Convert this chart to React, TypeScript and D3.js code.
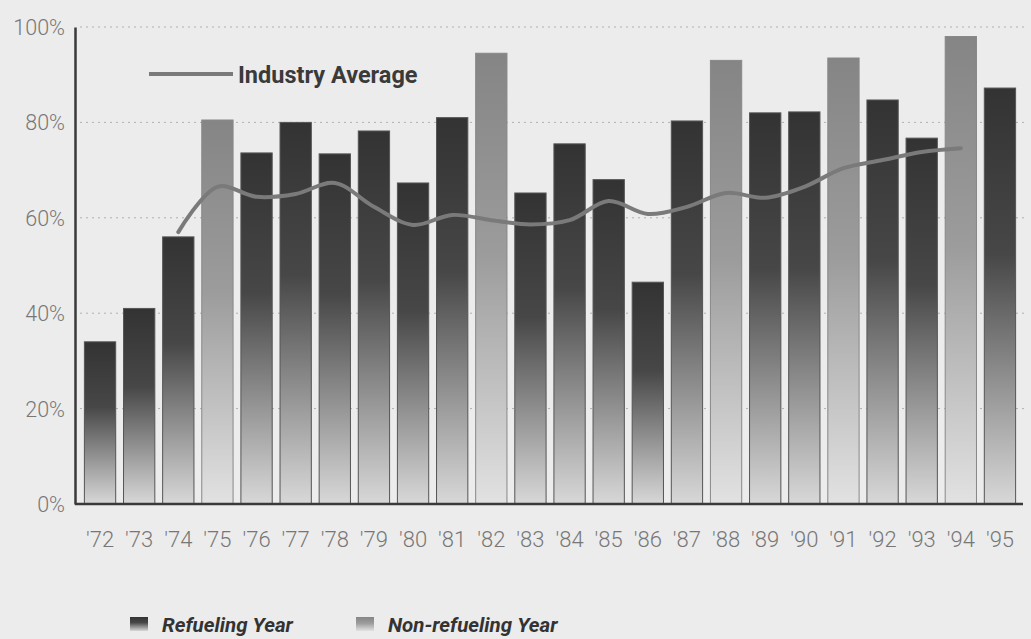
import React, { useEffect, useRef } from 'react';
import * as d3 from 'd3';

// capacity factor by year
const years = ["'72", "'73", "'74", "'75", "'76", "'77", "'78", "'79", "'80", "'81", "'82", "'83",
  "'84", "'85", "'86", "'87", "'88", "'89", "'90", "'91", "'92", "'93", "'94", "'95"];
const values = [34, 41, 56, 80.5, 73.6, 80, 73.4, 78.2, 67.3, 81, 94.5, 65.2,
  75.5, 68, 46.5, 80.3, 93, 82, 82.2, 93.5, 84.7, 76.7, 98, 87.2];
// non-refueling years are drawn lighter
const nonRefueling = ["'75", "'82", "'88", "'91", "'94"];
const avgYears = ["'74", "'75", "'76", "'77", "'78", "'79", "'80", "'81", "'82", "'83", "'84",
  "'85", "'86", "'87", "'88", "'89", "'90", "'91", "'92", "'93", "'94"];
const avgValues = [57, 66.5, 64.4, 65, 67.3, 62.3, 58.5, 60.6, 59.5, 58.6, 59.5,
  63.5, 60.8, 62.3, 65.2, 64.2, 66.5, 70.4, 72.1, 73.8, 74.6];
const yTicks = [0, 20, 40, 60, 80, 100];

const FONT = "'Roboto', 'Liberation Sans', sans-serif";

const App = () => {
  const svgRef = useRef<SVGSVGElement>(null);

  useEffect(() => {
    if (!svgRef.current) return;
    const width = 1031;
    const height = 639;

    const svg = d3.select(svgRef.current);
    svg.selectAll('*').remove();
    svg.attr('width', width).attr('height', height);

    svg.append('rect').attr('width', width).attr('height', height).attr('fill', '#ececec');

    // gradients
    const defs = svg.append('defs');
    const dark = defs.append('linearGradient').attr('id', 'gDark')
      .attr('x1', 0).attr('y1', 0).attr('x2', 0).attr('y2', 1);
    dark.append('stop').attr('offset', '0%').attr('stop-color', '#333');
    dark.append('stop').attr('offset', '40%').attr('stop-color', '#474747');
    dark.append('stop').attr('offset', '100%').attr('stop-color', '#d8d8d8');
    const light = defs.append('linearGradient').attr('id', 'gLight')
      .attr('x1', 0).attr('y1', 0).attr('x2', 0).attr('y2', 1);
    light.append('stop').attr('offset', '0%').attr('stop-color', '#858585');
    light.append('stop').attr('offset', '45%').attr('stop-color', '#9c9c9c');
    light.append('stop').attr('offset', '100%').attr('stop-color', '#e2e2e2');

    const x = d3.scaleBand<string>()
      .domain(years)
      .range([75, 1025])
      .paddingInner(0.2)
      .paddingOuter(0.24);

    const y = d3.scaleLinear().domain([0, 100]).range([504, 27]);

    // dotted gridlines
    svg.append('g')
      .selectAll('line')
      .data(yTicks.filter(d => d > 0))
      .join('line')
      .attr('x1', 80)
      .attr('x2', 1025)
      .attr('y1', d => y(d))
      .attr('y2', d => y(d))
      .attr('stroke', '#b0b0b0')
      .attr('stroke-width', 1)
      .attr('stroke-dasharray', '2,4');

    // bars
    svg.append('g')
      .selectAll('rect')
      .data(years)
      .join('rect')
      .attr('x', (d) => x(d) as number)
      .attr('y', (d, i) => y(values[i]))
      .attr('width', x.bandwidth())
      .attr('height', (d, i) => y(0) - y(values[i]))
      .attr('fill', d => nonRefueling.includes(d) ? 'url(#gLight)' : 'url(#gDark)')
      .attr('stroke', d => nonRefueling.includes(d) ? '#888' : '#555')
      .attr('stroke-width', 1);

    // industry average line
    const line = d3.line<number>()
      .x((d, i) => (x(avgYears[i]) as number) + x.bandwidth() / 2)
      .y(d => y(d))
      .curve(d3.curveCatmullRom.alpha(0.5));
    svg.append('path')
      .datum(avgValues)
      .attr('d', line)
      .attr('fill', 'none')
      .attr('stroke', '#7a7a7a')
      .attr('stroke-width', 4)
      .attr('stroke-linejoin', 'round')
      .attr('stroke-linecap', 'round');

    // axes
    const yAxis = svg.append('g')
      .attr('transform', 'translate(75,0)')
      .call(d3.axisLeft(y).tickValues(yTicks).tickSize(0).tickPadding(10).tickFormat(d => `${d}%`));
    yAxis.select('.domain').attr('stroke', '#3a3a3a').attr('stroke-width', 2.5);
    yAxis.selectAll('text')
      .attr('fill', '#777')
      .style('font-family', FONT)
      .style('font-weight', '300')
      .style('font-size', '21.5px')
      .attr('dy', '0.35em');

    const xAxis = svg.append('g')
      .attr('transform', 'translate(0,504)')
      .call(d3.axisBottom(x).tickSize(0).tickPadding(27));
    xAxis.select('.domain').attr('d', 'M75,0H1023').attr('stroke', '#3a3a3a').attr('stroke-width', 2.5);
    xAxis.selectAll('text')
      .attr('fill', '#777')
      .style('font-family', FONT)
      .style('font-weight', '300')
      .style('font-size', '22px');

    // industry average legend
    svg.append('line')
      .attr('x1', 149).attr('x2', 233).attr('y1', 74).attr('y2', 74)
      .attr('stroke', '#7a7a7a').attr('stroke-width', 4);
    svg.append('text')
      .attr('x', 238).attr('y', 83)
      .style('font-family', FONT)
      .style('font-size', '23.5px')
      .style('font-weight', 'bold')
      .attr('fill', '#3a3a3a')
      .text('Industry Average');

    // bottom legend
    const legend = [
      { label: 'Refueling Year', fill: 'url(#gDark)', x: 130 },
      { label: 'Non-refueling Year', fill: 'url(#gLight)', x: 356 },
    ];
    const lg = svg.append('g')
      .selectAll('g')
      .data(legend)
      .join('g')
      .attr('transform', d => `translate(${d.x},617)`);
    lg.append('rect')
      .attr('width', 18).attr('height', 14)
      .attr('fill', d => d.fill);
    lg.append('text')
      .attr('x', 32).attr('y', 15)
      .style('font-family', FONT)
      .style('font-size', '20.5px')
      .style('font-weight', 'bold')
      .style('font-style', 'italic')
      .attr('fill', '#333')
      .text(d => d.label);
  }, []);

  return <svg ref={svgRef} style={{ position: 'absolute', left: 0, top: 0, display: 'block' }} />;
};

export default App;
